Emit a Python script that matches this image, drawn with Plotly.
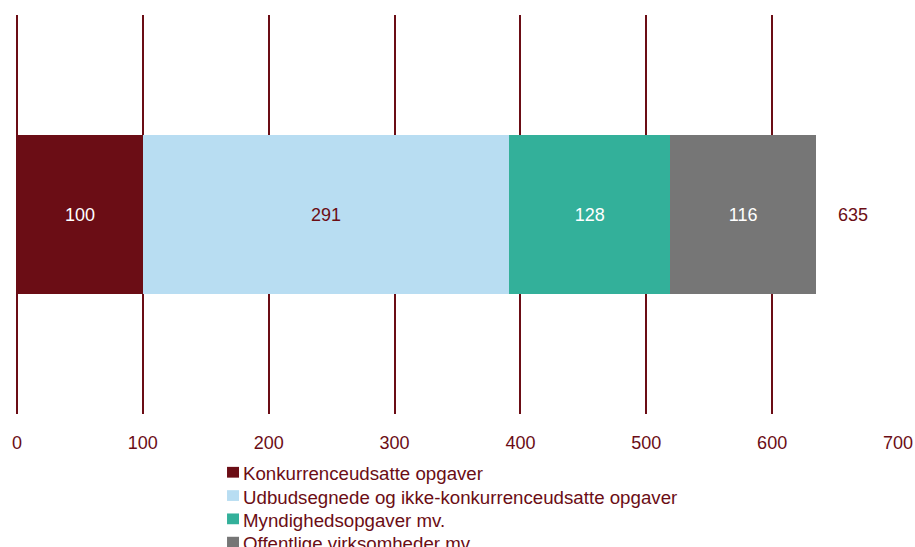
import plotly.graph_objects as go

# Opgavefordeling — stacked horizontal bar
categories = [""]
series_names = [
    "Konkurrenceudsatte opgaver",
    "Udbudsegnede og ikke-konkurrenceudsatte opgaver",
    "Myndighedsopgaver mv.",
    "Offentlige virksomheder mv.",
]
series_values = [100, 291, 128, 116]
series_colors = ["#6B0D15", "#B8DDF2", "#33B09A", "#767676"]
label_colors = ["#FFFFFF", "#6B0D15", "#FFFFFF", "#FFFFFF"]
x_ticks = [0, 100, 200, 300, 400, 500, 600, 700]

TEXT = "#6B0D15"
GRID = "#6B0D15"
FONT = "Liberation Sans, Arial, sans-serif"
FS = 18

fig = go.Figure()
for name, val, col, lc in zip(series_names, series_values, series_colors, label_colors):
    fig.add_trace(go.Bar(
        y=categories, x=[val], name=name, orientation="h",
        marker=dict(color=col, line=dict(width=0)),
        text=[str(val)], textposition="inside", insidetextanchor="middle",
        textfont=dict(color=lc, size=FS, family=FONT),
        width=0.4, showlegend=False,
    ))

total = sum(series_values)
fig.add_annotation(
    x=total, y=categories[0], text=str(total), showarrow=False,
    xanchor="left", xshift=20, font=dict(color=TEXT, size=FS, family=FONT),
)

# legend drawn by hand below the axis: coloured square + name, one per row
ROW0, ROW_STEP, HALF = -0.146, 0.0584, 0.0135
for i, (name, col) in enumerate(zip(series_names, series_colors)):
    yc = ROW0 - i * ROW_STEP
    fig.add_shape(
        type="rect", xref="paper", yref="paper",
        x0=0.2384, x1=0.2520, y0=yc - HALF, y1=yc + HALF,
        fillcolor=col, line=dict(width=0),
    )
    fig.add_annotation(
        xref="paper", yref="paper", x=0.2543, y=yc - 0.004,
        xanchor="left", yanchor="middle", showarrow=False,
        text=name, font=dict(color=TEXT, size=18.7, family=FONT),
    )

fig.update_layout(
    width=915, height=547,
    margin=dict(l=17, r=17, t=15, b=133, autoexpand=False),
    barmode="stack",
    plot_bgcolor="white", paper_bgcolor="white",
    font=dict(family=FONT, color=TEXT, size=FS),
    showlegend=False,
    uniformtext=dict(mode="show", minsize=FS),
)
fig.update_xaxes(
    range=[0, 700], tickvals=x_ticks, ticktext=[str(t) for t in x_ticks],
    showgrid=True, gridcolor=GRID, gridwidth=2,
    zeroline=True, zerolinecolor=GRID, zerolinewidth=2,
    showline=False, ticks="", ticklabelstandoff=16, automargin=False,
    tickfont=dict(size=FS, color=TEXT),
)
fig.update_yaxes(range=[-0.5, 0.5], showticklabels=False, showgrid=False,
                 zeroline=False, automargin=False)

# page sits flush with the window (no default body margin / scrollbars)
fig.write_html(
    "out.html",
    config={"displayModeBar": False},
    post_script="document.body.style.margin='0';document.body.style.overflow='hidden';",
)
